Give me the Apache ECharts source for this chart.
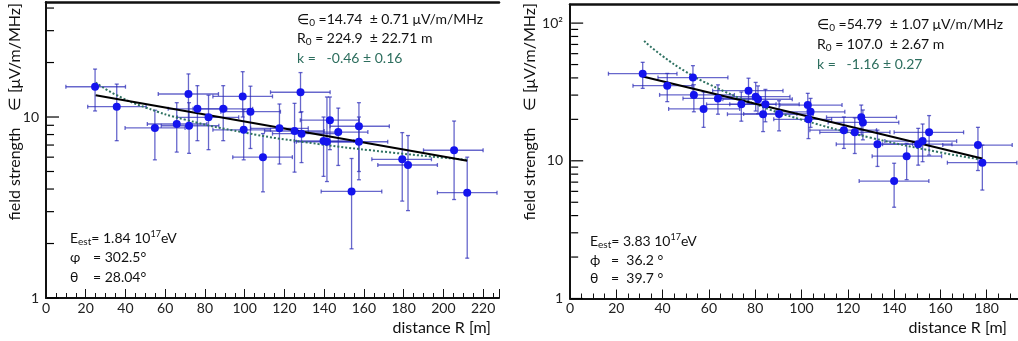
<!DOCTYPE html>
<html><head><meta charset="utf-8">
<script src="https://cdn.jsdelivr.net/npm/echarts@6/dist/echarts.min.js"></script>
<style>html,body{margin:0;padding:0;background:#fff}#c{width:1018px;height:341px}</style>
</head><body><div id="c"></div>
<script>
// ---------- data: left panel ----------
const leftR    = [24.7,35.6,54.8,65.8,71.7,72.0,76.2,81.8,89.2,99.0,99.5,102.9,109.2,117.5,125.1,128.1,128.6,139.7,141.4,142.9,147.1,153.8,157.5,157.5,179.3,182.2,205.4,212.0];
const leftE    = [14.7,11.4,8.7,9.15,13.4,8.95,11.1,9.96,11.1,13.0,8.5,10.7,6.0,8.66,8.37,13.7,8.09,7.37,7.3,9.6,8.26,3.88,8.89,7.3,5.84,5.43,6.55,3.82];
const leftRlo  = [10,21,39.8,51,56.5,58,61.5,66,74,84,84,88,94,103,110,113,114,125,126,128,132,138.5,143,142,164,167,190,197];
const leftRhi  = [40,50.4,70,81,86.8,87,91,97,104,114,113,118,124,132,140,143,146.6,155,156,157.6,162,169,172.8,172,194,197,220,227];
const leftElo  = [10.8,7.4,5.8,6.4,9.2,6.3,7.4,6.6,7.4,10.0,5.8,6.7,3.86,5.5,4.96,10.6,5.6,4.7,4.4,6.6,5.4,1.87,4.5,5.0,3.43,3.04,3.5,1.66];
const leftEhi  = [18.4,15.2,10.9,12.0,17.3,12.0,14.9,13.2,14.9,17.8,11.0,14.8,8.1,11.8,11.9,17.6,10.7,10.0,12.9,12.9,11.2,5.9,12.0,10.0,8.2,7.9,9.5,6.0];
const leftExpR = [25,212];
const leftExpE = [13.2,5.74];
const leftPowR = [25,35,50,70,100,130,170,212];
const leftPowE = [15.5,13.3,11.3,9.67,8.2,7.27,6.43,5.8];
// ---------- data: right panel ----------
const rightR   = [31.4,42.0,53.1,53.5,57.7,63.9,74.0,77.1,80.2,81.2,84.4,83.4,90.3,102.7,103.9,103.0,118.3,123.0,125.8,126.5,132.8,140.0,145.4,150.4,152.3,155.1,176.2,178.1];
const rightE   = [42.9,35.1,40.2,30.1,23.8,28.4,25.7,32.3,29.2,28.0,25.8,21.8,21.9,25.4,22.7,20.0,16.7,16.1,20.7,19.0,13.2,7.13,10.8,13.2,13.9,16.1,13.0,9.69];
const rightRlo = [16.6,27.2,38,38.7,42.6,48.8,59,61.6,65,66,69,68,75,90.6,89,88,103.6,107.9,110.8,111.5,115,124.9,130.5,135,136,140,161,163];
const rightRhi = [46.2,52.7,68.2,71,73.3,79,89,92,95,96,99,98,105,117.5,118.7,113,132.4,138.2,141,142,148,155,160.5,165,167,170,191,193];
const rightElo = [33.6,26.9,31.6,22.7,17.5,21.8,19.4,26.1,23,22,19.2,16.3,16.5,20.9,17.5,14.5,12.3,11.3,15.4,14.2,9.1,4.6,7.3,9.3,9.85,11.0,8.5,6.13];
const rightEhi = [51.9,43.1,49.1,35.7,31.6,35.6,31.6,39.8,37.1,35,33,26.1,27.3,30.9,28.4,23.4,20.8,20.5,25.4,23.4,16.7,9.6,13.4,17.2,18.5,21.3,17.5,13.0];
const rightExpR = [31.4,178];
const rightExpE = [40.9,10.4];
const rightPowR = [32,40,50,60,80,100,130,160,178];
const rightPowE = [74.1,57.6,44.4,36.0,25.8,19.9,14.7,11.5,10.2];
const leftXTicks  = [0,20,40,60,80,100,120,140,160,180,200,220];
const rightXTicks = [0,20,40,60,80,100,120,140,160,180];
const leftYMajor  = [1,10];
const leftYMinor  = [2,3,4,5,6,7,8,9,20,30,40];
const rightYMajor = [1,10,100];
const rightYMinor = [2,3,4,5,6,7,8,9,20,30,40,50,60,70,80,90];
const leftYMax = 43.2, rightYMax = 136.5;

const FONT = 'Lato, "Open Sans", "DejaVu Sans", sans-serif';
const zip = (...a) => a[0].map((_, i) => a.map(x => x[i]));

function renderErr(params, api) {
  const x = api.value(0), y = api.value(1);
  const c = api.coord([x, y]);
  const l = api.coord([api.value(2), y]);
  const r = api.coord([api.value(3), y]);
  const t = api.coord([x, api.value(5)]);
  const b = api.coord([x, api.value(4)]);
  const st = { stroke: 'rgba(45,45,185,0.72)', lineWidth: 1.3 };
  const cap = 2;
  return { type: 'group', children: [
    { type: 'line', shape: { x1: l[0], y1: c[1], x2: r[0], y2: c[1] }, style: st },
    { type: 'line', shape: { x1: c[0], y1: t[1], x2: c[0], y2: b[1] }, style: st },
    { type: 'line', shape: { x1: l[0], y1: c[1]-cap, x2: l[0], y2: c[1]+cap }, style: st },
    { type: 'line', shape: { x1: r[0], y1: c[1]-cap, x2: r[0], y2: c[1]+cap }, style: st },
    { type: 'line', shape: { x1: c[0]-cap, y1: t[1], x2: c[0]+cap, y2: t[1] }, style: st },
    { type: 'line', shape: { x1: c[0]-cap, y1: b[1], x2: c[0]+cap, y2: b[1] }, style: st }
  ]};
}
// y-axis tick marks (log scale), positioned via the axis scale
function renderYTick(params, api) {
  const x0 = api.value(0), v = api.value(1), len = api.value(2);
  const p = api.coord([x0, v]);
  return { type: 'group', children: [
    { type: 'line', shape: { x1: p[0], y1: p[1], x2: p[0] + len, y2: p[1] },
      style: { stroke: '#000', lineWidth: 1.2 } }
  ]};
}

function xBottom(grid, max, ticks) {
  return { type: 'value', gridIndex: grid, min: 0, max: max, interval: 20, position: 'bottom',
    axisLine: { show: true, lineStyle: { color: '#111', width: 2 } },
    axisTick: { show: true, inside: true, length: 9, lineStyle: { color: '#111', width: 1 } },
    minorTick: { show: true, splitNumber: 4, length: 5, lineStyle: { color: '#111', width: 1 } },
    axisLabel: { color: '#222', fontSize: 14, fontFamily: FONT, margin: 3, customValues: ticks },
    splitLine: { show: false } };
}
function xTop(grid, max) {
  return { type: 'value', gridIndex: grid, min: 0, max: max, position: 'top',
    axisLine: { show: true, lineStyle: { color: '#111', width: 2.5 } },
    axisTick: { show: false }, axisLabel: { show: false }, splitLine: { show: false } };
}
function yMain(grid, max, ticks, labels) {
  return { type: 'log', logBase: 10, gridIndex: grid, min: 1, max: max, position: 'left',
    axisLine: { show: true, lineStyle: { color: '#111', width: 2 } },
    axisTick: { show: false },
    axisLabel: { color: '#222', fontSize: 14, fontFamily: FONT, margin: 7, customValues: ticks,
      formatter: v => labels[ticks.indexOf(Math.round(v))] || '' },
    splitLine: { show: false } };
}

function tickSeries(xi, yi, major, minor) {
  return { type: 'custom', xAxisIndex: xi, yAxisIndex: yi, renderItem: renderYTick, clip: false, silent: true,
    data: major.map(v => [0.5, v, 12]).concat(minor.map(v => [0.5, v, 7])),
    encode: { x: 0, y: 1 }, z: 10 };
}

function panelSeries(xi, yi, R, E, Rlo, Rhi, Elo, Ehi, expR, expE, powR, powE) {
  return [
    { type: 'custom', xAxisIndex: xi, yAxisIndex: yi, renderItem: renderErr,
      data: zip(R, E, Rlo, Rhi, Elo, Ehi), encode: { x: 0, y: 1 }, z: 2, silent: true },
    { type: 'line', xAxisIndex: xi, yAxisIndex: yi, data: zip(powR, powE), smooth: true,
      showSymbol: false, lineStyle: { color: '#2f7262', width: 2, type: 'dotted' }, z: 3 },
    { type: 'line', xAxisIndex: xi, yAxisIndex: yi, data: zip(expR, expE),
      showSymbol: false, lineStyle: { color: '#000', width: 2 }, z: 4 },
    { type: 'scatter', xAxisIndex: xi, yAxisIndex: yi, data: zip(R, E), symbolSize: 8,
      itemStyle: { color: '#1414ee', opacity: 1 }, z: 5 }
  ];
}

function txt(x, y, s, color) {
  return { type: 'text', x: x, y: y, silent: true,
    style: { text: s, font: '14px ' + FONT, fill: color || '#111', align: 'left', verticalAlign: 'middle',
      rich: { sub: { fontSize: 10, fontFamily: FONT, padding: [7, 0, 0, 0], fill: color || '#111' },
              sup: { fontSize: 9, fontFamily: FONT, padding: [0, 0, 7, 0], fill: color || '#111' } } } };
}
function vtitle(x) {
  return { type: 'text', x: x, y: 3, rotation: Math.PI / 2, silent: true,
    style: { text: 'field strength    \u2208 [\u03bcV/m/MHz]', font: '16px ' + FONT, fill: '#111', align: 'right', verticalAlign: 'middle' } };
}
function htitle(x) {
  return { type: 'text', x: x, y: 328, silent: true,
    style: { text: 'distance R [m]', font: '16px ' + FONT, fill: '#111', align: 'right', verticalAlign: 'middle' } };
}
const GREEN = '#2d6e5e';

const chart = echarts.init(document.getElementById('c'), null, { renderer: 'canvas' });
chart.setOption({
  animation: false,
  backgroundColor: '#fff',
  grid: [
    { left: 46, top: 2, width: 453, height: 296 },
    { left: 570, top: 4.5, width: 448, height: 294 }
  ],
  xAxis: [ xBottom(0, 228, leftXTicks), xTop(0, 228), xBottom(1, 193.5, rightXTicks), xTop(1, 193.5) ],
  yAxis: [
    yMain(0, leftYMax, leftYMajor, ['1', '10']),
    yMain(1, rightYMax, rightYMajor, ['1', '10', '10\u00b2'])
  ],
  series: [
    ...panelSeries(0, 0, leftR, leftE, leftRlo, leftRhi, leftElo, leftEhi, leftExpR, leftExpE, leftPowR, leftPowE),
    ...panelSeries(2, 1, rightR, rightE, rightRlo, rightRhi, rightElo, rightEhi, rightExpR, rightExpE, rightPowR, rightPowE),
    tickSeries(0, 0, leftYMajor, leftYMinor),
    tickSeries(2, 1, rightYMajor, rightYMinor)
  ],
  graphic: [
    vtitle(15), vtitle(530), htitle(491), htitle(1007),
    txt(297, 19, '\u2208{sub|0} =14.74  \u00b1 0.71 \u03bcV/m/MHz'),
    txt(297, 38, 'R{sub|0} = 224.9  \u00b1 22.71 m'),
    txt(297, 58, 'k =   -0.46 \u00b1 0.16', GREEN),
    txt(70, 238, 'E{sub|est}= 1.84 10{sup|17}eV'),
    txt(70, 257, '\u03c6'), txt(93, 257, '= 302.5\u00b0'),
    txt(70, 277, '\u03b8'), txt(93, 277, '= 28.04\u00b0'),
    txt(817, 24, '\u2208{sub|0} =54.79  \u00b1 1.07 \u03bcV/m/MHz'),
    txt(817, 44, 'R{sub|0} = 107.0  \u00b1 2.67 m'),
    txt(817, 64, 'k =   -1.16 \u00b1 0.27', GREEN),
    txt(590, 241, 'E{sub|est}= 3.83 10{sup|17}eV'),
    txt(590, 260, '\u03d5'), txt(611, 260, '=  36.2 \u00b0'),
    txt(590, 278, '\u03b8'), txt(611, 278, '=  39.7 \u00b0')
  ]
});
</script></body></html>
